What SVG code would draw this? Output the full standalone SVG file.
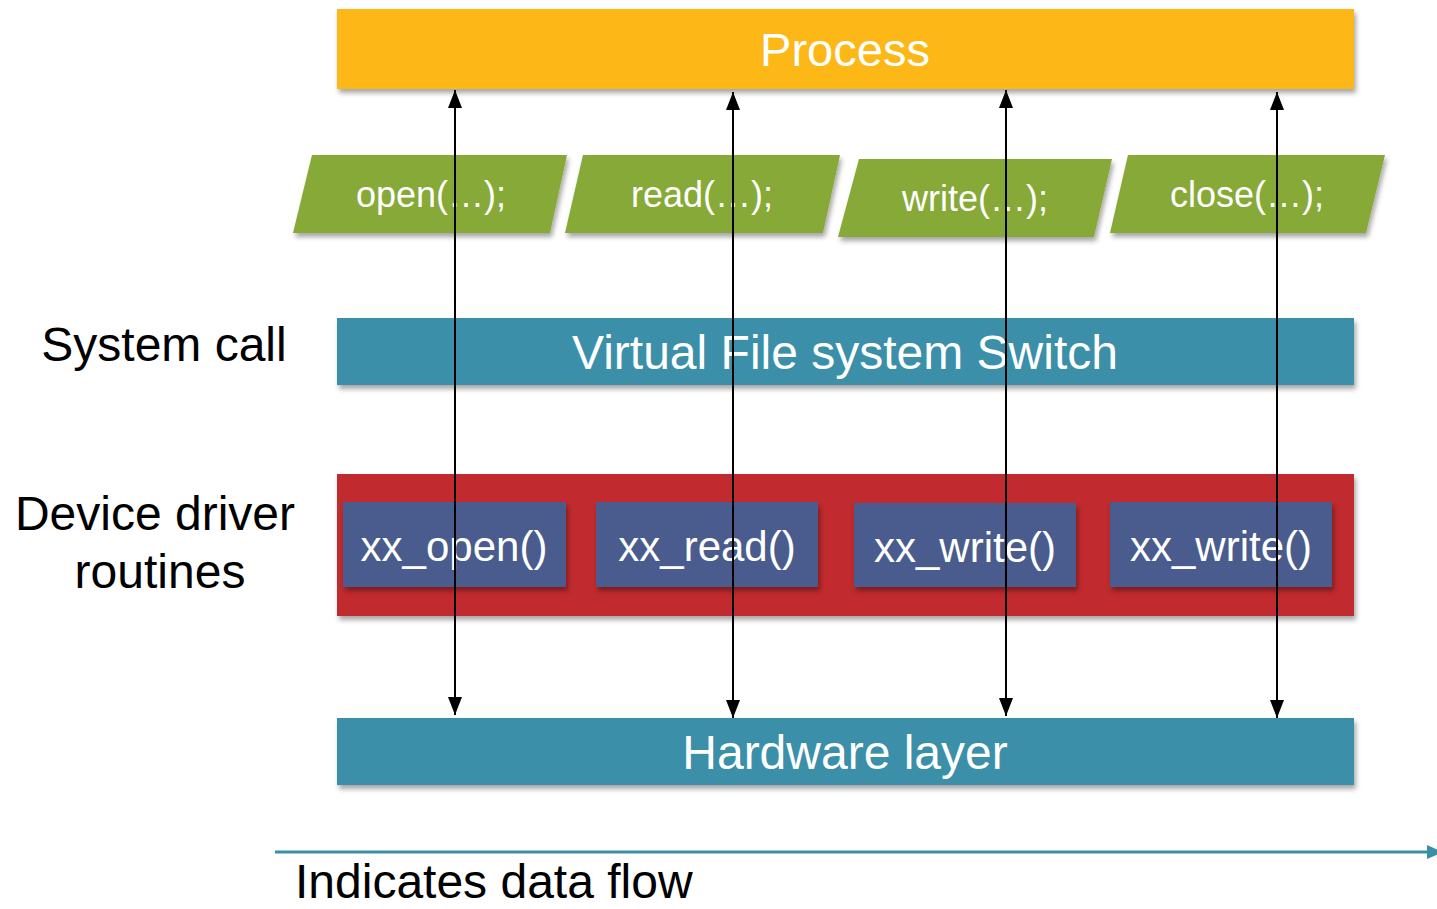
<svg xmlns="http://www.w3.org/2000/svg" width="1437" height="909" viewBox="0 0 1437 909">
<style>
  .lbl{font-family:"Liberation Sans",Arial,sans-serif;fill:#fff;text-anchor:middle}
  .side{font-family:"Liberation Sans",Arial,sans-serif;fill:#000;font-size:48px;text-anchor:middle}
  .bar{filter:url(#sh)}
  .proc{fill:#FDB713}
  .teal{fill:#3A8FA8}
  .green{fill:#86A937}
  .red{fill:#C12B2E}
  .blue{fill:#485B8D}
  .flow{stroke:#000;stroke-width:2;fill:none;marker-start:url(#ah);marker-end:url(#ah)}
</style>
<defs>
  <filter id="sh" x="-5%" y="-20%" width="110%" height="150%">
    <feDropShadow dx="2" dy="4" stdDeviation="2.5" flood-color="#000" flood-opacity="0.35"/>
  </filter>
  <marker id="ah" viewBox="0 0 18 14" refX="18" refY="7" markerWidth="18" markerHeight="14" markerUnits="userSpaceOnUse" orient="auto-start-reverse">
    <path d="M0,0 L18,7 L0,14 Z" fill="#000"/>
  </marker>
  <marker id="ah2" viewBox="0 0 16 14" refX="16" refY="7" markerWidth="16" markerHeight="14" markerUnits="userSpaceOnUse" orient="auto">
    <path d="M0,0 L16,7 L0,14 Z" fill="#3A8FA8"/>
  </marker>
</defs>
<rect width="1437" height="909" fill="#fff"/>

<g id="process">
  <rect class="bar proc" x="337" y="9" width="1017" height="80"/>
  <text class="lbl" x="845" y="66" font-size="47">Process</text>
</g>

<g id="open">
  <polygon class="bar green" points="312,155 567,155 550,233 293,233"/>
  <text class="lbl" x="431" y="207" font-size="36">open(…);</text>
</g>
<g id="read">
  <polygon class="bar green" points="583,155 840,155 823,233 565,233"/>
  <text class="lbl" x="702" y="207" font-size="36">read(…);</text>
</g>
<g id="write">
  <polygon class="bar green" points="859,159 1112,159 1094,237 838,237"/>
  <text class="lbl" x="975" y="211" font-size="36">write(…);</text>
</g>
<g id="close">
  <polygon class="bar green" points="1128,155 1385,155 1366,233 1110,233"/>
  <text class="lbl" x="1247" y="207" font-size="36">close(…);</text>
</g>

<g id="vfs">
  <rect class="bar teal" x="337" y="318" width="1017" height="67"/>
  <text class="lbl" x="845" y="369" font-size="48">Virtual File system Switch</text>
</g>

<g id="drivers">
  <rect class="bar red" x="337" y="474" width="1017" height="142"/>
</g>
<g id="xx_open">
  <rect class="bar blue" x="343" y="502" width="223" height="85"/>
  <text class="lbl" x="454" y="561" font-size="42">xx_open()</text>
</g>
<g id="xx_read">
  <rect class="bar blue" x="596" y="502" width="222" height="85"/>
  <text class="lbl" x="707" y="561" font-size="42">xx_read()</text>
</g>
<g id="xx_write1">
  <rect class="bar blue" x="854" y="503" width="222" height="84"/>
  <text class="lbl" x="965" y="562" font-size="42">xx_write()</text>
</g>
<g id="xx_write2">
  <rect class="bar blue" x="1110" y="502" width="222" height="85"/>
  <text class="lbl" x="1221" y="561" font-size="42">xx_write()</text>
</g>

<g id="hardware">
  <rect class="bar teal" x="337" y="718" width="1017" height="67"/>
  <text class="lbl" x="845" y="769" font-size="48">Hardware layer</text>
</g>

<g id="labels">
  <text class="side" x="164" y="361">System call</text>
  <text class="side" x="155" y="530">Device driver</text>
  <text class="side" x="160" y="588">routines</text>
</g>

<g id="connectors">
  <line class="flow" x1="455" y1="90" x2="455" y2="715"/>
  <line class="flow" x1="733" y1="92" x2="733" y2="718"/>
  <line class="flow" x1="1006" y1="90" x2="1006" y2="716"/>
  <line class="flow" x1="1277" y1="92" x2="1277" y2="718"/>
</g>

<g id="legend">
  <line x1="275" y1="852" x2="1443" y2="852" stroke="#3A8FA8" stroke-width="3" marker-end="url(#ah2)"/>
  <text x="295" y="898" font-family="'Liberation Sans',Arial,sans-serif" font-size="48" fill="#000">Indicates data flow</text>
</g>
</svg>
